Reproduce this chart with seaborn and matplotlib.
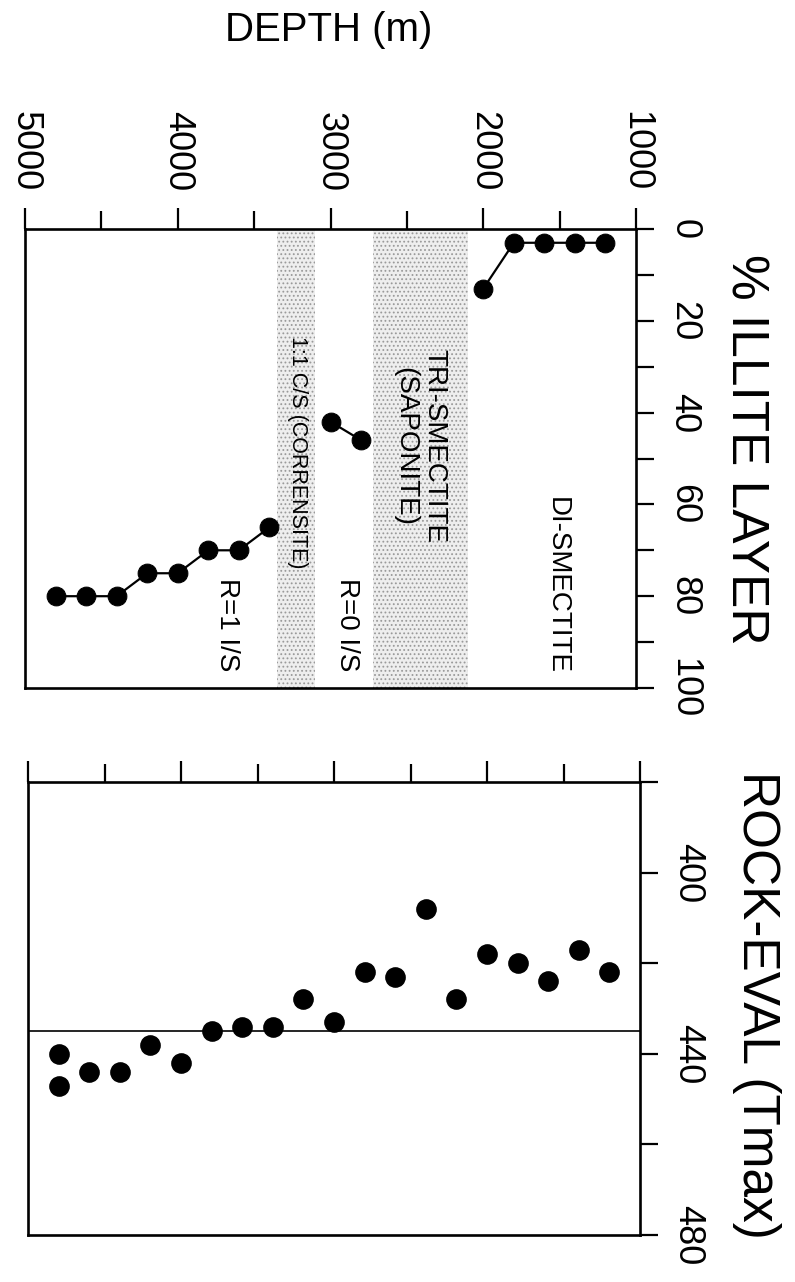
import matplotlib
matplotlib.use("Agg")
import matplotlib.pyplot as plt
import seaborn as sns

# ---------------- data ----------------
# % illite layers in I/S vs depth (three connected segments)
illite_depth_shallow = [1200, 1400, 1600, 1800, 2000]
illite_pct_shallow = [3, 3, 3, 3, 13]
illite_depth_r0 = [2800, 3000]
illite_pct_r0 = [46, 42]
illite_depth_r1 = [3400, 3600, 3800, 4000, 4200, 4400, 4600, 4800]
illite_pct_r1 = [65, 70, 70, 75, 75, 80, 80, 80]

# Rock-Eval Tmax vs depth
tmax_depth = [1200, 1400, 1600, 1800, 2000, 2200, 2400, 2600, 2800, 3000,
              3200, 3400, 3600, 3800, 4000, 4200, 4400, 4600, 4800, 4800]
tmax_values = [422, 417, 424, 420, 418, 428, 408, 423, 422, 433,
               428, 434, 434, 435, 442, 438, 444, 444, 440, 447]
tmax_threshold = 435

# shaded zones (depth ranges)
saponite_band = (2100, 2720)
corrensite_band = (3100, 3350)

depth_ticks = [1000, 2000, 3000, 4000, 5000]
depth_minor = [1500, 2500, 3500, 4500]
illite_ticks = [0, 20, 40, 60, 80, 100]
illite_minor = [10, 30, 50, 70, 90]
tmax_ticks = [400, 440, 480]
tmax_minor = [380, 420, 460]

# ---------------- style ----------------
sns.set_style("ticks")
plt.rcParams['font.family'] = ['Liberation Sans', 'DejaVu Sans']
plt.rcParams['hatch.linewidth'] = 0.8
plt.rcParams['text.color'] = 'black'
plt.rcParams['axes.labelcolor'] = 'black'
plt.rcParams['xtick.color'] = 'black'
plt.rcParams['ytick.color'] = 'black'
plt.rcParams['axes.edgecolor'] = 'black'

W, H = 795, 1282
fig = plt.figure(figsize=(W / 100, H / 100), dpi=100)
ax1 = fig.add_axes([25 / W, (H - 688) / H, 611 / W, 459 / H])
ax2 = fig.add_axes([28 / W, (H - 1235) / H, 612 / W, 453 / H])

# ---------------- top panel ----------------
ax1.axvspan(*saponite_band, facecolor='#eeeeee', hatch='....', edgecolor='#9a9a9a',
            linewidth=0, zorder=0)
ax1.axvspan(*corrensite_band, facecolor='#eeeeee', hatch='....', edgecolor='#9a9a9a',
            linewidth=0, zorder=0)
for xs, ys in [(illite_depth_shallow, illite_pct_shallow),
               (illite_depth_r0, illite_pct_r0),
               (illite_depth_r1, illite_pct_r1)]:
    sns.lineplot(x=xs, y=ys, ax=ax1, color='black', lw=1.6, sort=False,
                 marker='o', markersize=13.5, markeredgecolor='black', zorder=3)

ax1.text(1517, 77.6, "DI-SMECTITE", rotation=-90, ha='center', va='center',
         fontsize=20, color='black')
ax1.text(2414, 47.3, "TRI-SMECTITE\n(SAPONITE)", rotation=-90, ha='center', va='center',
         multialignment='center', fontsize=20, linespacing=1.15, color='black')
ax1.text(3215, 48.6, "1:1 C/S (CORRENSITE)", rotation=-90, ha='center', va='center',
         fontsize=15.5, color='black')
ax1.text(2892, 86.3, "R=0 I/S", rotation=-90, ha='center', va='center',
         fontsize=20, color='black')
ax1.text(3678, 86.3, "R=1 I/S", rotation=-90, ha='center', va='center',
         fontsize=20, color='black')

ax1.set_ylim(100, 0)
ax1.set_yticks(illite_ticks)
ax1.set_yticks(illite_minor, minor=True)

# ---------------- bottom panel ----------------
ax2.axhline(tmax_threshold, color='black', lw=1.2, zorder=1)
sns.scatterplot(x=tmax_depth, y=tmax_values, ax=ax2, s=190, color='black',
                edgecolor='black', legend=False, zorder=3)
ax2.set_ylim(480, 380)
ax2.set_yticks(tmax_ticks)
ax2.set_yticks(tmax_minor, minor=True)

# ---------------- shared axis styling ----------------
for ax in (ax1, ax2):
    ax.set_xlim(5000, 1000)
    ax.set_xticks(depth_ticks)
    ax.set_xticks(depth_minor, minor=True)
    ax.xaxis.tick_top()
    ax.yaxis.tick_right()
    ax.tick_params(axis='x', which='major', direction='out', length=15, width=1.6,
                   labelsize=26, pad=12, labelrotation=-90, colors='black')
    ax.tick_params(axis='x', which='minor', direction='out', length=13, width=1.6)
    ax.tick_params(axis='y', which='both', direction='out', length=13, width=1.6,
                   labelsize=26, pad=9, labelrotation=-90, colors='black')
    for s in ax.spines.values():
        s.set_visible(True)
        s.set_linewidth(1.9)
        s.set_color('black')
    for lab in ax.get_yticklabels():
        lab.set_va('center')
    ax.set_ylabel('')
    ax.set_xlabel('')

ax2.tick_params(axis='x', which='both', labeltop=False)

# axis titles
ax1.set_xlabel("DEPTH (m)", fontsize=29, va='center', color='black')
ax1.xaxis.set_label_coords(0.4975, 1.4336)
ax1.yaxis.set_label_position('right')
ax1.set_ylabel("% ILLITE LAYER", fontsize=37, rotation=-90, va='center', ha='center',
               color='black')
ax1.yaxis.set_label_coords(1.178, 0.521)
ax2.yaxis.set_label_position('right')
ax2.set_ylabel("ROCK-EVAL (Tmax)", fontsize=37, rotation=-90, va='center', ha='center',
               color='black')
ax2.yaxis.set_label_coords(1.191, 0.508)

fig.savefig("out.png", dpi=100, facecolor='white')
